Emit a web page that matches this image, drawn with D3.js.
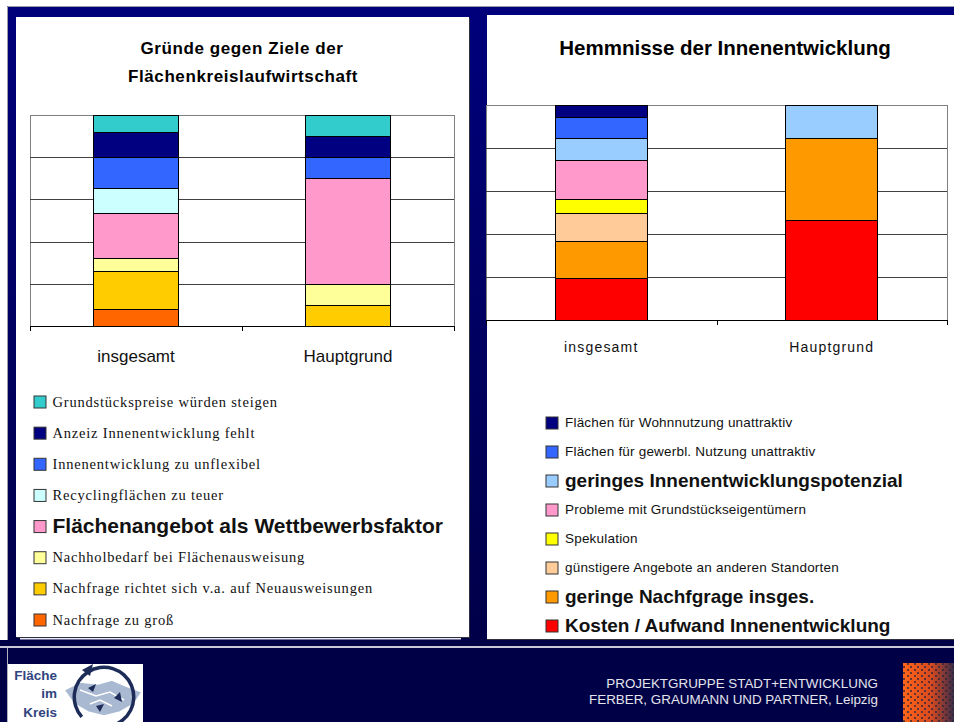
<!DOCTYPE html>
<html>
<head>
<meta charset="utf-8">
<script src="https://cdn.jsdelivr.net/npm/d3@7"></script>
<style>
  body { margin: 0; background: #fff; }
  svg { display: block; }
</style>
</head>
<body>
<svg width="954" height="722"></svg>
<script>
// Data
const categories = ["insgesamt", "Hauptgrund"];

// left chart, series from bottom of the stack to the top
const leftSeries = [
  "Nachfrage zu groß",
  "Nachfrage richtet sich v.a. auf Neuausweisungen",
  "Nachholbedarf bei Flächenausweisung",
  "Flächenangebot als Wettbewerbsfaktor",
  "Recyclingflächen zu teuer",
  "Innenentwicklung zu unflexibel",
  "Anzeiz Innenentwicklung fehlt",
  "Grundstückspreise würden steigen"
];
const leftInsgesamt  = [7.6, 18, 6.6, 21.3, 11.8, 14.7, 11.8, 8.2];
const leftHauptgrund = [0, 9.5, 10, 50.5, 0, 10, 10, 10];
const leftColors = ["#ff6600", "#ffcc00", "#ffff99", "#ff99cc", "#ccffff", "#3366ff", "#000080", "#33cccc"];
const leftBold = ["Flächenangebot als Wettbewerbsfaktor"];

// right chart, series from bottom of the stack to the top
const rightSeries = [
  "Kosten / Aufwand Innenentwicklung",
  "geringe Nachfgrage insges.",
  "günstigere Angebote an anderen Standorten",
  "Spekulation",
  "Probleme mit Grundstückseigentümern",
  "geringes Innenentwicklungspotenzial",
  "Flächen für gewerbl. Nutzung unattraktiv",
  "Flächen für Wohnnutzung unattraktiv"
];
const rightInsgesamt  = [19.2, 17.5, 12.9, 6.5, 18.1, 10.2, 10.0, 5.6];
const rightHauptgrund = [46.2, 38.3, 0, 0, 0, 15.5, 0, 0];
const rightColors = ["#ff0000", "#ff9900", "#ffcc99", "#ffff00", "#ff99cc", "#99ccff", "#3366ff", "#000080"];
const rightBold = ["Kosten / Aufwand Innenentwicklung", "geringe Nachfgrage insges.", "geringes Innenentwicklungspotenzial"];

const gridValues = [20, 40, 60, 80];

const footerLines = ["PROJEKTGRUPPE STADT+ENTWICKLUNG", "FERBER, GRAUMANN UND PARTNER, Leipzig"];

const svg = d3.select("svg");
const defs = svg.append("defs");

// Background frame
const bg = defs.append("linearGradient").attr("id", "frame")
    .attr("x1", 0).attr("y1", 0).attr("x2", 0).attr("y2", 1);
bg.append("stop").attr("offset", 0).attr("stop-color", "#00007c");
bg.append("stop").attr("offset", 1).attr("stop-color", "#000048");

svg.append("rect").attr("x", 7).attr("y", 6).attr("width", 947).attr("height", 640)
    .attr("fill", "url(#frame)");
svg.append("path").attr("d", "M7.5,646V6.5H954").attr("fill", "none")
    .attr("stroke", "#9a9aa8").attr("stroke-width", 1);

// footer
svg.append("rect").attr("x", 0).attr("y", 640).attr("width", 954).attr("height", 82).attr("fill", "#000046");
svg.append("rect").attr("x", 0).attr("y", 646).attr("width", 954).attr("height", 2).attr("fill", "#c8c8d6");

// panels
svg.append("rect").attr("x", 17).attr("y", 18).attr("width", 453).attr("height", 620).attr("fill", "#303040");
svg.append("rect").attr("x", 16).attr("y", 17).attr("width", 453).attr("height", 620).attr("fill", "#fff");
svg.append("rect").attr("x", 20).attr("y", 638).attr("width", 441).attr("height", 1.5).attr("fill", "#e8e8f0");
svg.append("rect").attr("x", 487).attr("y", 15).attr("width", 467).attr("height", 624).attr("fill", "#fff");
svg.append("line").attr("x1", 487).attr("x2", 954).attr("y1", 639.5).attr("y2", 639.5)
    .attr("stroke", "#303040");

function drawChart(opt) {
  const rows = categories.map((c, i) => {
    const row = { cat: c };
    opt.series.forEach((s, j) => { row[s] = opt.values[i][j]; });
    return row;
  });
  const stacked = d3.stack().keys(opt.series)(rows);

  const x = d3.scaleBand().domain(categories).range(opt.xRange);
  const y = d3.scaleLinear().domain([0, 100]).range(opt.yRange);
  const color = d3.scaleOrdinal().domain(opt.series).range(opt.colors);
  const barW = x.bandwidth() * 0.4;

  const g = svg.append("g");

  // plot border
  g.append("path")
      .attr("d", `M${opt.xRange[0]},${opt.yRange[0]}V${opt.yRange[1]}H${opt.xRange[1]}V${opt.yRange[0]}`)
      .attr("fill", "none").attr("stroke", "#808080").attr("shape-rendering", "crispEdges");

  // gridlines
  g.append("g")
      .attr("transform", `translate(${opt.xRange[0]},0)`)
      .call(d3.axisLeft(y).tickValues(gridValues).tickSize(-(opt.xRange[1] - opt.xRange[0])).tickFormat(""))
      .call(a => a.select(".domain").remove())
      .call(a => a.selectAll("line").attr("stroke", "#404040").attr("shape-rendering", "crispEdges"));

  // bars
  g.append("g")
    .selectAll("g")
    .data(stacked)
    .join("g")
      .attr("fill", d => color(d.key))
    .selectAll("rect")
    .data(d => d.filter(p => p[1] - p[0] > 0))
    .join("rect")
      .attr("x", d => x(d.data.cat) + (x.bandwidth() - barW) / 2)
      .attr("y", d => y(d[1]))
      .attr("width", barW)
      .attr("height", d => y(d[0]) - y(d[1]))
      .attr("stroke", "#000")
      .attr("stroke-width", 1)
      .attr("shape-rendering", "crispEdges");

  // x axis with ticks at category boundaries
  const xb = d3.scaleLinear().domain([0, categories.length]).range(opt.xRange);
  g.append("g")
      .attr("transform", `translate(0,${opt.yRange[0]})`)
      .call(d3.axisBottom(xb).tickValues(d3.range(categories.length + 1)).tickSize(5).tickSizeOuter(0).tickFormat(""))
      .call(a => a.selectAll("line,path").attr("stroke", "#000").attr("shape-rendering", "crispEdges"));

  // category labels
  g.append("g")
    .selectAll("text")
    .data(categories)
    .join("text")
      .attr("x", d => x(d) + x.bandwidth() / 2)
      .attr("y", opt.labelY)
      .attr("text-anchor", "middle")
      .style("font", opt.labelFont)
      .style("letter-spacing", opt.labelSpacing)
      .attr("fill", "#111")
      .text(d => d);

  // legend, top series first
  const items = opt.series.slice().reverse();
  const ly = d3.scalePoint().domain(items).range(opt.legendY);
  const leg = g.append("g")
    .selectAll("g")
    .data(items)
    .join("g")
      .attr("transform", d => `translate(${opt.legendX},${ly(d)})`);
  leg.append("rect")
      .attr("x", 0.5).attr("y", -5.5)
      .attr("width", 12).attr("height", 12)
      .attr("fill", d => color(d))
      .attr("stroke", "#333");
  leg.append("text")
      .attr("x", opt.legendTextDx)
      .attr("dy", "0.35em")
      .attr("fill", "#111")
      .style("font", d => opt.bold.includes(d) ? opt.boldFont : opt.legendFont)
      .style("letter-spacing", d => opt.bold.includes(d) ? "0px" : opt.legendSpacing)
      .text(d => d);
}

drawChart({
  series: leftSeries,
  values: [leftInsgesamt, leftHauptgrund],
  colors: leftColors,
  bold: leftBold,
  xRange: [30, 454],
  yRange: [326, 115],
  labelY: 362,
  labelFont: "17px Arial, 'Liberation Sans', sans-serif",
  labelSpacing: "0px",
  legendX: 33.5,
  legendTextDx: 19,
  legendY: [401.5, 619.5],
  legendFont: "14.5px 'Liberation Serif', 'Times New Roman', serif",
  legendSpacing: "0.8px",
  boldFont: "bold 21px Arial, 'Liberation Sans', sans-serif"
});

drawChart({
  series: rightSeries,
  values: [rightInsgesamt, rightHauptgrund],
  colors: rightColors,
  bold: rightBold,
  xRange: [486, 947],
  yRange: [320, 105],
  labelY: 352,
  labelFont: "14px Arial, 'Liberation Sans', sans-serif",
  labelSpacing: "1.2px",
  legendX: 545.5,
  legendTextDx: 19.5,
  legendY: [422.5, 625.5],
  legendFont: "13.5px Arial, 'Liberation Sans', sans-serif",
  legendSpacing: "0.2px",
  boldFont: "bold 19px Arial, 'Liberation Sans', sans-serif"
});

// titles
svg.append("text").attr("x", 242).attr("y", 54).attr("text-anchor", "middle")
    .style("font", "bold 17px Arial, 'Liberation Sans', sans-serif").style("letter-spacing", "0.6px")
    .text("Gründe gegen Ziele der");
svg.append("text").attr("x", 243).attr("y", 82).attr("text-anchor", "middle")
    .style("font", "bold 17px Arial, 'Liberation Sans', sans-serif").style("letter-spacing", "0.6px")
    .text("Flächenkreislaufwirtschaft");
svg.append("text").attr("x", 725).attr("y", 55).attr("text-anchor", "middle")
    .style("font", "bold 20.5px Arial, 'Liberation Sans', sans-serif")
    .text("Hemmnisse der Innenentwicklung");

// footer text
svg.append("g")
  .selectAll("text")
  .data(footerLines)
  .join("text")
    .attr("x", 878)
    .attr("y", (d, i) => 688 + i * 16)
    .attr("text-anchor", "end")
    .attr("fill", "#e4e4ec")
    .style("font", "13.4px Arial, 'Liberation Sans', sans-serif")
    .text(d => d);

// left logo
const logo = svg.append("g");
logo.append("rect").attr("x", 8).attr("y", 664).attr("width", 135).attr("height", 58).attr("fill", "#fff");
logo.append("line").attr("x1", 7.5).attr("x2", 7.5).attr("y1", 648).attr("y2", 722).attr("stroke", "#b0b0c0");
logo.append("path")
    .attr("d", "M64,690L80,682L98,684L112,680L126,686L142,692L134,704L120,712L104,716L88,712L74,704Z")
    .attr("fill", "#a9b9d2").attr("stroke", "#fff").attr("stroke-width", 1.5);
logo.append("path")
    .attr("d", "M80,690L96,696L110,692L124,700M90,704L100,700L112,706")
    .attr("fill", "none").attr("stroke", "#fff").attr("stroke-width", 1.5);
logo.append("path")
    .attr("d", d3.arc()({ innerRadius: 28, outerRadius: 31.5, startAngle: -2.3, endAngle: 2.9 }))
    .attr("transform", "translate(104,697)")
    .attr("fill", "#1d2b58");
logo.append("path").attr("d", "M82,670L93,664L90,676Z").attr("fill", "#1d2b58");
logo.append("path").attr("d", "M88,688L96,684L93,692Z M114,698L120,692L122,702Z M96,706L104,704L100,712Z").attr("fill", "#1d2b58");
[["Fläche", 680], ["im", 698], ["Kreis", 717]].forEach(t => {
  logo.append("text").attr("x", 57).attr("y", t[1]).attr("text-anchor", "end")
      .attr("fill", "#30447e")
      .style("font", "bold 13.5px Arial, 'Liberation Sans', sans-serif")
      .text(t[0]);
});

// right logo
const og = defs.append("linearGradient").attr("id", "orangeFade");
og.append("stop").attr("offset", 0).attr("stop-color", "#ff6418");
og.append("stop").attr("offset", 0.55).attr("stop-color", "#d84a20");
og.append("stop").attr("offset", 1).attr("stop-color", "#3a2c48");
const pat = defs.append("pattern").attr("id", "speckle").attr("patternUnits", "userSpaceOnUse")
    .attr("width", 7).attr("height", 6);
pat.append("rect").attr("x", 0).attr("y", 0).attr("width", 2).attr("height", 2).attr("fill", "#2a2438").attr("opacity", 0.7);
pat.append("rect").attr("x", 4).attr("y", 3).attr("width", 2).attr("height", 2).attr("fill", "#2a2438").attr("opacity", 0.7);
svg.append("rect").attr("x", 903).attr("y", 663).attr("width", 51).attr("height", 59).attr("fill", "url(#orangeFade)");
svg.append("rect").attr("x", 903).attr("y", 663).attr("width", 51).attr("height", 59).attr("fill", "url(#speckle)");
</script>
</body>
</html>
